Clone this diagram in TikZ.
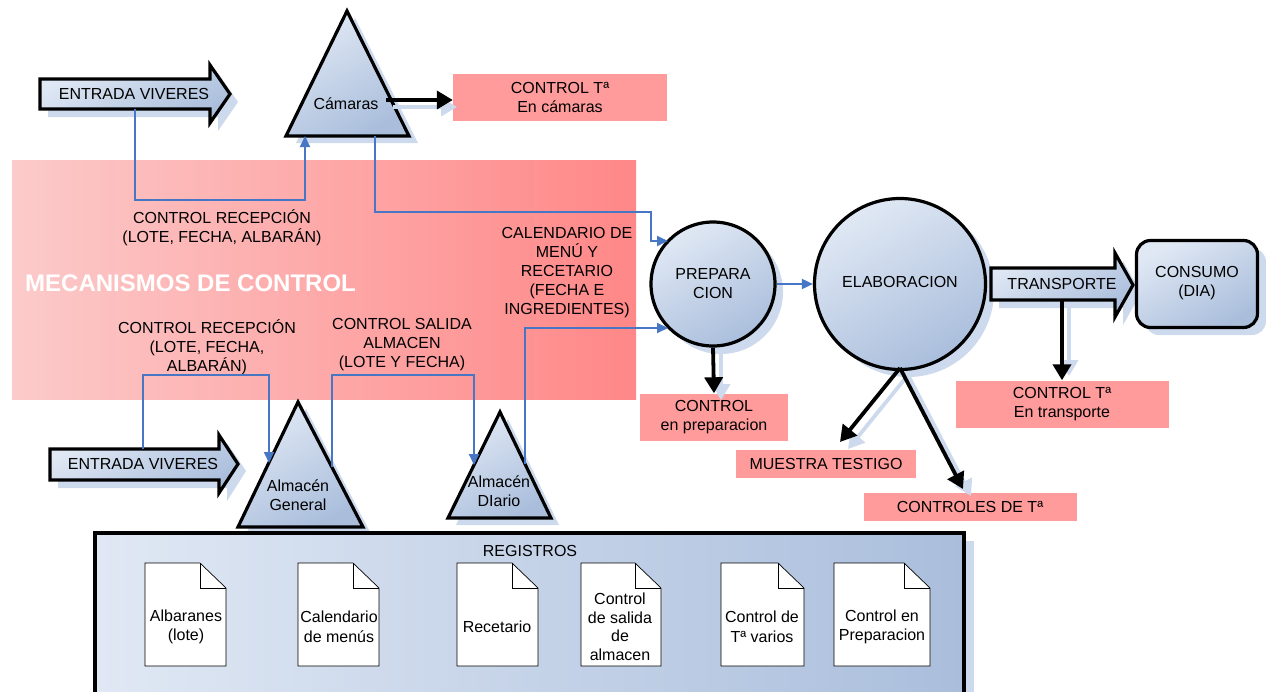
\documentclass[tikz,border=0pt]{standalone}
\usepackage{fontspec}
\setmainfont{Liberation Sans}
\usetikzlibrary{arrows.meta}
\definecolor{shapeL}{RGB}{224,232,244}
\definecolor{shapeD}{RGB}{170,190,220}
\definecolor{shadowc}{RGB}{205,218,238}
\definecolor{pinkc}{RGB}{255,155,155}
\definecolor{pinkL}{RGB}{252,202,202}
\definecolor{pinkR}{RGB}{255,135,135}
\definecolor{blueln}{RGB}{70,118,196}
\begin{document}
\begin{tikzpicture}[x=1pt,y=-1pt,
  every node/.style={font=\fontsize{16}{19}\selectfont, align=center, inner sep=0pt},
  bluefill/.style={draw=black, line width=3.2pt, line join=miter, top color=shapeL, bottom color=shapeD, shading angle=30},
  pinkbox/.style={fill=pinkc, draw=none, minimum width=#1, minimum height=47},
  blueline/.style={draw=blueln, line width=1.8pt, -{Triangle[length=11pt,width=10pt]}},
  blackarr/.style={draw=black, line width=3.8pt, -{Triangle[length=16pt,width=18pt]}},
  shadowarr/.style={draw=shadowc, line width=3.8pt, -{Triangle[length=16pt,width=18pt]}},
  docshape/.style={draw=black, line width=0.7pt, fill=white},
  lbl/.style={font=\fontsize{16}{19.5}\selectfont}
]
\useasboundingbox (0,0) rectangle (1266,691);
\fill[white] (0,0) rectangle (1266,691);

% ---------- shadows ----------
\fill[shadowc] (48,87) -- (218,87) -- (218,73) -- (238,102) -- (218,131) -- (218,117) -- (48,117) -- cycle;
\fill[shadowc] (355,18) -- (296,143) -- (418,143) -- cycle;
\fill[shadowc] (58,457) -- (227,457) -- (227,443) -- (246,471) -- (227,501) -- (227,488) -- (58,488) -- cycle;
\fill[shadowc] (306,409) -- (246,534) -- (371,534) -- cycle;
\fill[shadowc] (508,419) -- (456,525) -- (559,525) -- cycle;
\fill[shadowc] (721,292) circle [radius=62];
\fill[shadowc] (908,291) circle [radius=86];
\fill[shadowc] (999,276) -- (1123,276) -- (1123,261) -- (1141,293) -- (1123,325) -- (1123,308) -- (999,308) -- cycle;
\fill[shadowc, rounded corners=14pt] (1145,248) rectangle (1266,335);
\fill[shadowc] (103,541) rectangle (974,700);

% ---------- big pink area ----------
\shade[left color=pinkL, right color=pinkR] (12,160) rectangle (636,399);
\node[font=\bfseries\fontsize{24}{28}\selectfont, text=white, anchor=west] (mec) at (25,283) {MECANISMOS DE CONTROL};

% ---------- registros ----------
\draw[line width=3.2pt, left color=shapeL, right color=shapeD] (95,533) rectangle (964,705);
\node (reg) at (530,551) {REGISTROS};

% documents
\foreach \xa/\xb/\nm in {145/226/d1, 298/379/d2, 457/538/d3, 581/661/d4, 721/804/d5, 834/930/d6}{
  \draw[docshape] (\xa,563) -- ({\xb-26},563) -- (\xb,588) -- (\xb,666) -- (\xa,666) -- cycle;
  \draw[docshape, fill=none] ({\xb-26},563) -- ({\xb-26},588) -- (\xb,588);
}
\node[lbl] (t1) at (186,627) {Albaranes\\(lote)};
\node[lbl] (t2) at (339,627) {Calendario\\de menús};
\node[lbl] (t3) at (497,627) {Recetario};
\node[font=\fontsize{16}{18.5}\selectfont] (t4) at (620,627) {Control\\de salida\\de\\almacen};
\node[lbl] (t5) at (762,627) {Control de\\Tª varios};
\node[lbl] (t6) at (882,627) {Control en\\Preparacion};

% ---------- block arrows ----------
\draw[bluefill] (40,79) -- (210,79) -- (210,65) -- (230,94) -- (210,123) -- (210,109) -- (40,109) -- cycle;
\node (ev1) at (134,94) {ENTRADA VIVERES};
\coordinate (ev1b) at (135,109);

\draw[bluefill] (50,449) -- (219,449) -- (219,435) -- (238,464) -- (219,493) -- (219,480) -- (50,480) -- cycle;
\node (ev2) at (143,464) {ENTRADA VIVERES};
\coordinate (ev2t) at (143,449);

\draw[bluefill] (991,268) -- (1115,268) -- (1115,253) -- (1133,285) -- (1115,317) -- (1115,300) -- (991,300) -- cycle;
\node (tra) at (1062,284) {TRANSPORTE};
\coordinate (trab) at (1062,300);

% ---------- triangles ----------
\draw[bluefill] (347,11) -- (286,136) -- (409,136) -- cycle;
\node (cam) at (346,104) {Cámaras};
\draw[bluefill] (298,402) -- (238,527) -- (363,527) -- cycle;
\node (ag) at (298,495) {Almacén\\General};
\draw[bluefill] (500,412) -- (448,518) -- (551,518) -- cycle;
\node (ad) at (499,491) {Almacén\\DIario};

% ---------- circles ----------
\node[circle, bluefill, minimum size=124] (prep) at (713,284) {};
\node at (713,284) {PREPARA\\CION};
\node[circle, bluefill, minimum size=171] (ela) at (900,284) {};
\node at (900,282) {ELABORACION};

% ---------- consumo ----------
\node[draw=black, line width=3.2pt, rounded corners=14pt, top color=shapeL, bottom color=shapeD, shading angle=30, minimum width=121, minimum height=87] (con) at (1197,284) {};
\node at (1197,283) {CONSUMO\\(DIA)};

% ---------- pink boxes ----------
\node[pinkbox=214] (ct1) at (560,97) {CONTROL Tª\\En cámaras};
\node[pinkbox=148] (cp) at (714,417) {CONTROL\\en preparacion};
\node[pinkbox=213] (ct2) at (1062,404) {CONTROL Tª\\En transporte};
\node[pinkbox=180, minimum height=28] (mt) at (826,464) {MUESTRA TESTIGO};
\node[pinkbox=213, minimum height=28] (cdt) at (970,507) {CONTROLES DE Tª};

% ---------- labels ----------
\node (l1) at (222,228) {CONTROL RECEPCIÓN\\(LOTE, FECHA, ALBARÁN)};
\node (l2) at (207,347) {CONTROL RECEPCIÓN\\(LOTE, FECHA,\\ALBARÁN)};
\node (l3) at (402,345) {CONTROL SALIDA\\ALMACEN\\(LOTE Y FECHA)};
\node (l4) at (567,273) {CALENDARIO DE\\MENÚ Y\\RECETARIO\\(FECHA E\\INGREDIENTES)};

% ---------- coordinates for connectors ----------
\coordinate (camb1) at (305,136);
\coordinate (camb2) at (375,136);
\coordinate (camr) at (386,100);
\coordinate (agl) at (269,463);
\coordinate (agr) at (332,467);
\coordinate (adl) at (474,465);
\coordinate (adr) at (525,464);
\coordinate (elab) at (900,368);
\coordinate (prepin1) at (668,241);
\coordinate (prepin2) at (668,328);

% ---------- blue connectors ----------
\draw[blueline] (ev1b) |- (305,200) -- (camb1);
\draw[blueline] (camb2) |- (651,212) |- (prepin1);
\draw[blueline] (ev2t) |- (269,375) -- (agl);
\draw[blueline] (agr) |- (474,375) -- (adl);
\draw[blueline] (adr) |- (prepin2);
\draw[blueline] (prep.east) -- (ela.west);

% ---------- black arrows (with shadows) ----------
\draw[shadowarr] (393,107) -- (457,107);
\draw[blackarr] (camr) -- (camr -| ct1.west);
\draw[shadowarr] (721,353) -- (721,400);
\draw[blackarr] (prep.south) -- (cp.north);
\draw[shadowarr] (1069,307) -- (1069,376);
\draw[blackarr] (trab) -- (ct2.north);
\draw[shadowarr] (908,375) -- (848,449);
\draw[blackarr] (elab) -- (840,442);
\draw[shadowarr] (908,375) -- (971,496);
\draw[blackarr] (elab) -- (963,489);
\end{tikzpicture}
\end{document}
